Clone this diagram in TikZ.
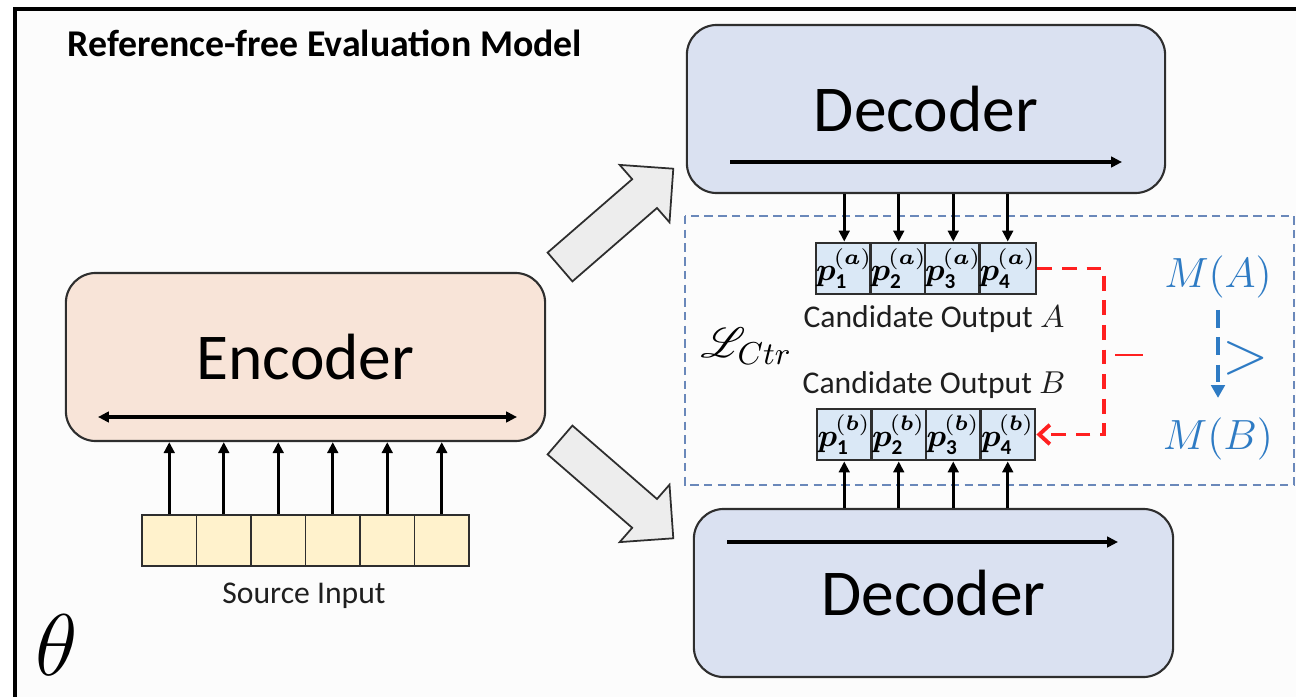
\documentclass[tikz,border=0pt]{standalone}
\usepackage{amsmath}
\usepackage{mathrsfs}
\usepackage{fontspec}
\setmainfont{Carlito}
\usetikzlibrary{arrows.meta}

\definecolor{encfill}{HTML}{F8E4D8}
\definecolor{decfill}{HTML}{DAE1F1}
\definecolor{srcfill}{HTML}{FFF2CC}
\definecolor{tokfill}{HTML}{DAE8F6}
\definecolor{boxline}{HTML}{2E2E2E}
\definecolor{lossframe}{HTML}{6A88BA}
\definecolor{mblue}{HTML}{2E7BC4}
\definecolor{lossred}{HTML}{FF2020}
\definecolor{bigarrow}{HTML}{EDEDED}
\definecolor{panel}{HTML}{FCFCFC}

\newcommand{\ptok}[2]{$\boldsymbol{p}_{\mathbf{#1}}^{\kern-0.5pt(\boldsymbol{#2})}$}

\begin{document}
\begin{tikzpicture}[x=0.01cm,y=-0.01cm,
  >={Triangle[length=3.1pt,width=3pt]},
  block/.style={draw=boxline, line width=0.6pt, rounded corners=0.3cm,
    inner sep=0pt, font=\fontsize{18.6}{20}\selectfont},
  tokcell/.style={draw=boxline, line width=0.8pt, fill=tokfill, inner sep=0pt,
    minimum width=0.545cm, minimum height=0.51cm, font=\fontsize{8.6}{9}\selectfont},
  srccell/.style={draw=boxline, line width=0.55pt, fill=srcfill, inner sep=0pt,
    minimum width=0.545cm, minimum height=0.51cm},
  flow/.style={line width=0.95pt, ->},
  innerarrow/.style={line width=0.95pt},
  capt/.style={font=\fontsize{9}{10}\selectfont, text=black!88, inner sep=0pt},
  bigshape/.style={fill=bigarrow, draw=boxline, line width=0.5pt, line join=miter}
]
\useasboundingbox (0,0) rectangle (1296,697);
\fill[white] (0,0) rectangle (1296,697);
\fill[panel] (15,9) rectangle (1296,697);
\draw[line width=0.9pt] (1296,9) -- (15,9) -- (15,697);

% title
\node[anchor=base west, inner sep=0pt, font=\bfseries\fontsize{10.75}{12}\selectfont]
  (title) at (67,57) {Reference-free Evaluation Model};

% encoder and decoders
\node[block, fill=encfill, minimum width=4.79cm, minimum height=1.68cm] (enc) at (305.5,357) {Encoder};
\node[block, fill=decfill, minimum width=4.78cm, minimum height=1.68cm] (dectop) at (926,109) {Decoder};
\node[block, fill=decfill, minimum width=4.79cm, minimum height=1.68cm] (decbot) at (933.5,593) {Decoder};

% direction arrows inside the blocks
\draw[innerarrow, <->] (98,417) -- (517,417);
\draw[innerarrow, ->] (730,162) -- (1122,162);
\draw[innerarrow, ->] (727,542) -- (1118,542);

% source tokens
\node[srccell] (s1) at (169.25,540.5) {};
\node[srccell] (s2) at (223.75,540.5) {};
\node[srccell] (s3) at (278.25,540.5) {};
\node[srccell] (s4) at (332.75,540.5) {};
\node[srccell] (s5) at (387.25,540.5) {};
\node[srccell] (s6) at (441.75,540.5) {};
\foreach \k in {1,...,6} {
  \draw[flow] (s\k.north) -- (s\k.north |- enc.south);
}
\node[capt, anchor=base] (srclabel) at (304,603) {Source Input};

% contrastive loss region
\draw[lossframe, line width=0.55pt, dash pattern=on 2.4pt off 1.5pt] (685,216) rectangle (1294,485);

% candidate tokens
\node[tokcell] (a1) at (844.25,268.5) {\ptok{1}{a}};
\node[tokcell] (a2) at (898.75,268.5) {\ptok{2}{a}};
\node[tokcell] (a3) at (953.25,268.5) {\ptok{3}{a}};
\node[tokcell] (a4) at (1007.75,268.5) {\ptok{4}{a}};
\node[tokcell] (b1) at (844.25,434.5) {\ptok{1}{b}};
\node[tokcell] (b2) at (898.75,434.5) {\ptok{2}{b}};
\node[tokcell] (b3) at (953.25,434.5) {\ptok{3}{b}};
\node[tokcell] (b4) at (1007.75,434.5) {\ptok{4}{b}};
\foreach \k in {1,...,4} {
  \draw[flow] (a\k.north |- dectop.south) -- (a\k.north);
  \draw[flow] (b\k.south |- decbot.north) -- (b\k.south);
}
\node[capt, anchor=base] (candA) at (934,327) {Candidate Output $A$};
\node[capt, anchor=base] (candB) at (934,393) {Candidate Output $B$};

\node[anchor=base west, inner sep=0pt, font=\fontsize{12.5}{13}\selectfont] (loss) at (700,357) {$\mathscr{L}_{Ctr}$};

% pairwise comparison link
\coordinate (redturn) at (1104,0);
\draw[lossred, line width=1.1pt, dash pattern=on 4.2pt off 2.8pt,
  -{Straight Barb[length=3pt,width=5.5pt,line width=1.1pt]}]
  (a4.east) -- (a4.east -| redturn) -- (b4.east -| redturn) -- (b4.east);
\coordinate (minusL) at (1115,355);
\coordinate (minusR) at (1143,355);
\draw[lossred, line width=0.75pt] (minusL) -- (minusR);

% metric ordering
\node[anchor=base, text=mblue, font=\fontsize{13.2}{14}\selectfont] (ma) at (1218,287) {$M(A)$};
\node[anchor=base, text=mblue, font=\fontsize{13.2}{14}\selectfont] (mb) at (1218,449) {$M(B)$};
\draw[mblue, line width=1.2pt, dash pattern=on 5pt off 2.8pt,
  -{Triangle[length=3.6pt,width=3.8pt]}, shorten >=2pt]
  (ma.south) -- (mb.north);
\node[text=mblue, inner sep=0pt, font=\fontsize{16}{16}\selectfont] (gt) at (1246,358) {$>$};

% block arrows from encoder to decoders
\draw[bigshape] (572.4,281.4) -- (657.0,208.0) -- (669.5,222.3) -- (673.3,168.7)
  -- (619.7,164.9) -- (632.2,179.2) -- (547.6,252.6) -- cycle;
\draw[bigshape] (572.4,425.6) -- (657.0,499.0) -- (669.5,484.7) -- (673.3,538.3)
  -- (619.7,542.1) -- (632.2,527.8) -- (547.6,454.4) -- cycle;

% model parameters
\node[font=\fontsize{26}{26}\selectfont] (theta) at (57,645) {$\theta$};
\end{tikzpicture}
\end{document}
